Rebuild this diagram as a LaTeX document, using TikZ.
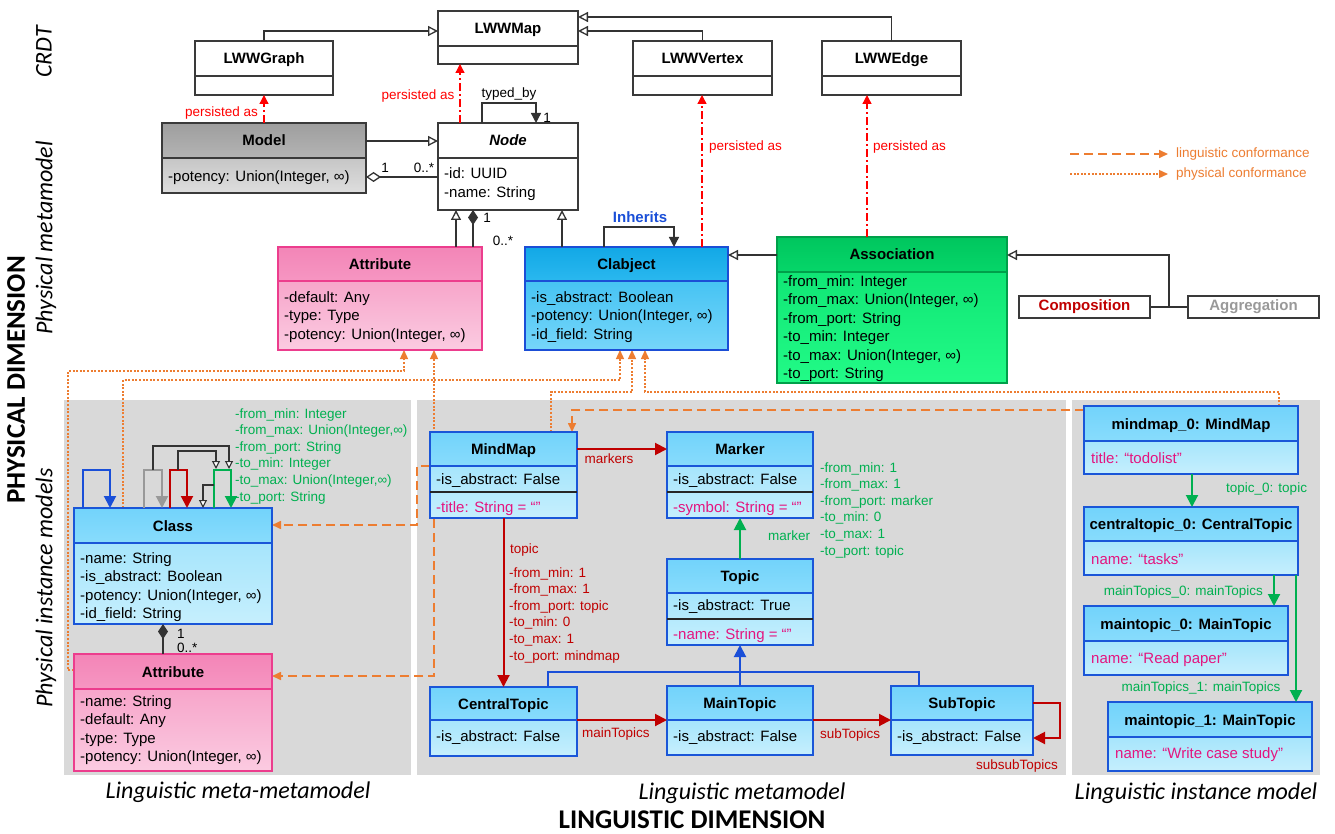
\documentclass[tikz,border=0pt]{standalone}
\usepackage{fontspec}
\setmainfont{Liberation Sans}
\newfontfamily\calfont{Carlito}
\usetikzlibrary{arrows.meta}
\pgfdeclarelayer{panel}
\pgfdeclarelayer{under}
\pgfsetlayers{panel,under,main}

\definecolor{wH1}{HTML}{FFFFFF}\definecolor{wH2}{HTML}{FFFFFF}
\definecolor{wB1}{HTML}{FFFFFF}\definecolor{wB2}{HTML}{FFFFFF}
\definecolor{wD}{HTML}{3A3A3A}
\definecolor{gH1}{HTML}{9E9E9E}\definecolor{gH2}{HTML}{B4B4B4}
\definecolor{gB1}{HTML}{C6C6C6}\definecolor{gB2}{HTML}{DEDEDE}
\definecolor{gD}{HTML}{3A3A3A}
\definecolor{pH1}{HTML}{F385B7}\definecolor{pH2}{HTML}{F696C2}
\definecolor{pB1}{HTML}{F7A5CA}\definecolor{pB2}{HTML}{FBCBE1}
\definecolor{pD}{HTML}{EC3D8D}
\definecolor{cH1}{HTML}{12A8E6}\definecolor{cH2}{HTML}{2AB8EF}
\definecolor{cB1}{HTML}{46C3F3}\definecolor{cB2}{HTML}{76D6FA}
\definecolor{cD}{HTML}{1B4ED6}
\definecolor{aH1}{HTML}{00C65E}\definecolor{aH2}{HTML}{06D669}
\definecolor{aB1}{HTML}{10E675}\definecolor{aB2}{HTML}{22FB87}
\definecolor{aD}{HTML}{00A04A}
\definecolor{iH1}{HTML}{72D3FB}\definecolor{iH2}{HTML}{88DCFC}
\definecolor{iB1}{HTML}{A6E5FC}\definecolor{iB2}{HTML}{C6EFFD}
\definecolor{iD}{HTML}{1A56D8}
\definecolor{panelgray}{HTML}{D9D9D9}
\definecolor{pred}{HTML}{FF0000}
\definecolor{dred}{HTML}{C00000}
\definecolor{ora}{HTML}{ED7D31}
\definecolor{grn}{HTML}{00B050}
\definecolor{blu}{HTML}{1A4FD8}
\definecolor{mag}{HTML}{E4157F}
\definecolor{lgray}{HTML}{999999}

\newcommand\fbody{\fontsize{15}{18.5}\selectfont}
\newcommand\ftitle{\bfseries\fontsize{15}{18.5}\selectfont}
\newcommand\fsmall{\fontsize{13.5}{16.6}\selectfont}
\newcommand\fside{\calfont\itshape\fontsize{24}{28}\selectfont}
\newcommand\fdim{\calfont\bfseries\fontsize{27}{31}\selectfont}

% #1 name, #2 x1, #3 y1, #4 x2, #5 ydiv, #6 y2, #7 colour prefix, #8 title
\newcommand\umlbox[8]{%
  \shade[top color=#7H1,bottom color=#7H2] (#2,#3) rectangle (#4,#5);
  \shade[top color=#7B1,bottom color=#7B2] (#2,#5) rectangle (#4,#6);
  \draw[draw=#7D,line width=1.3pt] (#2,#5) -- (#4,#5);
  \node[draw=#7D,line width=1.3pt,inner sep=0pt,outer sep=0pt,
        minimum width={(#4-#2)*1pt},minimum height={(#6-#3)*1pt},
        anchor=north west] (#1) at (#2,#3) {};
  \node[font=\ftitle,anchor=base,inner sep=0pt] (#1-t) at ({(#2+#4)/2},{(#3+#5)/2+5.5}) {#8};
}

\begin{document}
\begin{tikzpicture}[x=1pt,y=-1pt,
  conn/.style={line width=1.3pt,draw=black!80},
  gen/.style={conn,-{Triangle[fill=white,length=10pt,width=10pt]}},
  smallgen/.style={conn,line width=1.1pt,-{Triangle[fill=white,length=8pt,width=8pt]}},
  fillarr/.style={conn,-{Triangle[length=10pt,width=10pt]}},
  persist/.style={draw=pred,line width=1.3pt,dash pattern=on 8pt off 3pt on 2pt off 3pt,-{Triangle[length=9pt,width=9pt]}},
  ling/.style={draw=ora,line width=1.6pt,dash pattern=on 9pt off 5pt,-{Triangle[length=9pt,width=8pt]}},
  phys/.style={draw=ora,line width=1.3pt,dash pattern=on 2pt off 1.6pt,-{Triangle[length=9pt,width=8pt]}},
  rel/.style={line width=2pt,-{Triangle[length=12pt,width=12pt]}},
  body/.style={anchor=base west,align=left,inner sep=0pt,font=\fbody},
  small/.style={anchor=base west,align=left,inner sep=0pt,font=\fsmall},
  lbl/.style={inner sep=0pt,font=\fsmall},
  sep/.style={draw=black!85,line width=1.3pt},
]
\useasboundingbox (0,0) rectangle (1335,834);

\begin{pgfonlayer}{panel}
\fill[white] (0,0) rectangle (1335,834);
\fill[panelgray] (64,400) rectangle (411,775);
\fill[panelgray] (417,400) rectangle (1066,775);
\fill[panelgray] (1072,400) rectangle (1320,775);
\end{pgfonlayer}

% side and bottom labels
\node[rotate=90,font=\fside] (sCRDT) at (44,52) {CRDT};
\node[rotate=90,font=\fside] (sPM) at (46,238) {Physical metamodel};
\node[rotate=90,font=\fside] (sPI) at (46,588) {Physical instance models};
\node[rotate=90,font=\fdim] (sPD) at (16,380) {PHYSICAL DIMENSION};
\node[font=\fside] (sLMM) at (238,792) {Linguistic meta-metamodel};
\node[font=\fside] (sLM) at (742,793) {Linguistic metamodel};
\node[font=\fside] (sLI) at (1196,793) {Linguistic instance model};
\node[font=\fdim] (sLD) at (692,820) {LINGUISTIC DIMENSION};

% CRDT
\umlbox{lwwmap}{438}{11}{578}{46}{64}{w}{LWWMap}
\umlbox{lwwgraph}{195}{41}{333}{76}{95}{w}{LWWGraph}
\umlbox{lwwvertex}{633}{41}{772}{76}{95}{w}{LWWVertex}
\umlbox{lwwedge}{822}{41}{961}{76}{95}{w}{LWWEdge}

% physical metamodel (multi-line body nodes are placed by their last baseline)
\umlbox{model}{162}{123}{366}{158}{193}{g}{Model}
\node[body] (model-b) at (168,182) {-potency: Union(Integer, ∞)};
\umlbox{node}{438}{123}{578}{158}{210}{w}{\itshape Node}
\node[body] (node-b) at (444,197.5) {-id: UUID\\-name: String};
\umlbox{attrP}{278}{247}{482}{281}{350}{p}{Attribute}
\node[body] (attrP-b) at (284,339) {-default: Any\\-type: Type\\-potency: Union(Integer, ∞)};
\umlbox{clabject}{525}{247}{728}{281}{350}{c}{Clabject}
\node[body] (clabject-b) at (531,339) {-is\_abstract: Boolean\\-potency: Union(Integer, ∞)\\-id\_field: String};
\umlbox{assoc}{777}{237}{1007}{272}{383}{a}{Association}
\node[body] (assoc-b) at (783,378.5) {-from\_min: Integer\\-from\_max: Union(Integer, ∞)\\-from\_port: String\\-to\_min: Integer\\-to\_max: Union(Integer, ∞)\\-to\_port: String};
\node[draw=wD,line width=1.3pt,fill=white,minimum width=131pt,minimum height=22pt,inner sep=0pt,font=\ftitle,text=dred] (composition) at (1084.5,307) {Composition};
\node[draw=wD,line width=1.3pt,fill=white,minimum width=131pt,minimum height=22pt,inner sep=0pt,font=\ftitle,text=lgray] (aggregation) at (1253.5,307) {Aggregation};

% legend
\coordinate (lgA1) at (1070,154); \coordinate (lgA2) at (1168,154);
\draw[ling] (lgA1) -- (lgA2);
\node[lbl,text=ora,anchor=west] (lgT1) at (1176,154) {linguistic conformance};
\coordinate (lgB1) at (1070,174); \coordinate (lgB2) at (1168,174);
\draw[phys] (lgB1) -- (lgB2);
\node[lbl,text=ora,anchor=west] (lgT2) at (1176,174) {physical conformance};

% left panel
\umlbox{klass}{74}{508}{272}{543}{624}{i}{Class}
\node[body] (klass-b) at (80,618.5) {-name: String\\-is\_abstract: Boolean\\-potency: Union(Integer, ∞)\\-id\_field: String};
\umlbox{attrL}{74}{654}{272}{689}{771}{p}{Attribute}
\node[body] (attrL-b) at (80,761.5) {-name: String\\-default: Any\\-type: Type\\-potency: Union(Integer, ∞)};

% middle panel
\umlbox{mindmap}{430}{432}{577}{466}{518}{i}{MindMap}
\draw[sep] (mindmap.west |- 0,492) -- (mindmap.east |- 0,492);
\node[body] (mindmap-b1) at (436,484) {-is\_abstract: False};
\node[body,text=mag] (mindmap-b2) at (436,512) {-title: String = “”};
\umlbox{marker}{667}{432}{813}{466}{518}{i}{Marker}
\draw[sep] (marker.west |- 0,492) -- (marker.east |- 0,492);
\node[body] (marker-b1) at (673,484) {-is\_abstract: False};
\node[body,text=mag] (marker-b2) at (673,512) {-symbol: String = “”};
\umlbox{topic}{667}{559}{813}{593}{645}{i}{Topic}
\draw[sep] (topic.west |- 0,619) -- (topic.east |- 0,619);
\node[body] (topic-b1) at (673,610) {-is\_abstract: True};
\node[body,text=mag] (topic-b2) at (673,639) {-name: String = “”};
\umlbox{central}{430}{687}{577}{720}{756}{i}{CentralTopic}
\node[body] (central-b) at (436,741) {-is\_abstract: False};
\umlbox{maintopic}{667}{686}{813}{720}{755}{i}{MainTopic}
\node[body] (maintopic-b) at (673,741) {-is\_abstract: False};
\umlbox{subtopic}{891}{686}{1033}{720}{755}{i}{SubTopic}
\node[body] (subtopic-b) at (897,741) {-is\_abstract: False};

% right panel
\umlbox{mm0}{1084}{406}{1298}{441}{474}{i}{mindmap\_0: MindMap}
\node[body,text=mag] (mm0-b) at (1091,463) {title: “todolist”};
\umlbox{ct0}{1084}{507}{1298}{541}{575}{i}{centraltopic\_0: CentralTopic}
\node[body,text=mag] (ct0-b) at (1091,564) {name: “tasks”};
\umlbox{mt0}{1084}{606}{1288}{641}{675}{i}{maintopic\_0: MainTopic}
\node[body,text=mag] (mt0-b) at (1091,663) {name: “Read paper”};
\umlbox{mt1}{1108}{702}{1312}{737}{771}{i}{maintopic\_1: MainTopic}
\node[body,text=mag] (mt1-b) at (1115,758) {name: “Write case study”};

% ---- connectors: CRDT
\draw[gen] (lwwgraph.north) |- (lwwmap.west |- 0,31);
\draw[gen] (lwwvertex.north) |- (lwwmap.east |- 0,31);
\draw[gen] (lwwedge.north) |- (lwwmap.east |- 0,17);

% model / node
\draw[gen] (model.east |- 0,141) -- (node.west |- 0,141);
\draw[conn,{Diamond[fill=white,length=15pt,width=10pt]}-] (model.east |- 0,177) -- (node.west |- 0,177);
\node[lbl] (m1) at (385,168) {1};
\node[lbl] (m2) at (424,168) {0..*};

\draw[persist] (model.north) -- (lwwgraph.south);
\node[lbl,text=pred,anchor=east] (p1) at (258,113) {persisted as};
\draw[persist] (node.north -| 460,0) -- (lwwmap.south -| 460,0);
\node[lbl,text=pred] (p2) at (418,96) {persisted as};
\draw[persist] (clabject.north -| 702,0) -- (lwwvertex.south -| 702,0);
\node[lbl,text=pred,anchor=west] (p3) at (709,147) {persisted as};
\draw[persist] (assoc.north -| 867,0) -- (lwwedge.south -| 867,0);
\node[lbl,text=pred,anchor=west] (p4) at (873,147) {persisted as};

\draw[fillarr] (node.north -| 482,0) -- ++(0,-20) -| (node.north -| 536,0);
\node[lbl] (tb) at (509,94) {typed\_by};
\node[lbl] (tb1) at (547,118) {1};

\draw[gen] (attrP.north -| 456,0) -- (node.south -| 456,0);
\draw[conn,{Diamond[length=15pt,width=10pt]}-] (node.south -| 473,0) -- (attrP.north -| 473,0);
\node[lbl] (c1) at (487,218) {1};
\node[lbl] (c2) at (503,241) {0..*};
\draw[gen] (clabject.north -| 562,0) -- (node.south -| 562,0);
\draw[fillarr] (clabject.north -| 604,0) -- ++(0,-20) -| (clabject.north -| 674,0);
\node[inner sep=0pt,font=\ftitle,text=blu] (inh) at (640,217) {Inherits};

\draw[gen] (assoc.west |- 0,255) -- (clabject.east |- 0,255);
\draw[conn] (composition.east) -- (aggregation.west);
\draw[gen] (composition.east -| 1169,0) |- (assoc.east |- 0,255);

% ---- left panel loops
\draw[rel,draw=blu] (klass.north -| 83,0) -- ++(0,-38) -| (klass.north -| 110,0);
\draw[rel,draw=lgray] (klass.north -| 144,0) -- ++(0,-38) -| (klass.north -| 162,0);
\draw[rel,draw=dred] (klass.north -| 170,0) -- ++(0,-38) -| (klass.north -| 187,0);
\draw[rel,draw=grn] (klass.north -| 214,0) -- ++(0,-38) -| (klass.north -| 231,0);
\coordinate (grayTop) at (153,470); \coordinate (greenTopA) at (229,469);
\draw[smallgen] (grayTop) -- (153,446) -| (greenTopA);
\coordinate (redTop) at (178,470); \coordinate (greenTopB) at (216,469);
\draw[smallgen] (redTop) -- (178,451) -| (greenTopB);
\coordinate (greenSide) at (214,485);
\draw[smallgen] (greenSide) -| (klass.north -| 203,0);
\node[small,text=grn] (gtxt) at (235,501) {-from\_min: Integer\\-from\_max: Union(Integer,∞)\\-from\_port: String\\-to\_min: Integer\\-to\_max: Union(Integer,∞)\\-to\_port: String};

\draw[conn,{Diamond[length=15pt,width=10pt]}-] (klass.south -| 163,0) -- (attrL.north -| 163,0);
\node[lbl,anchor=west] (k1) at (177,634) {1};
\node[lbl,anchor=west] (k2) at (177,648) {0..*};

% ---- middle panel
\draw[rel,draw=dred] (mindmap.east |- 0,449) -- (marker.west |- 0,449);
\node[lbl,text=dred] (lmk) at (609,459) {markers};
\draw[rel,draw=grn] (topic.north) -- (marker.south);
\node[lbl,text=grn] (lmr) at (789,536) {marker};
\node[small,text=grn] (gtxt2) at (820,555) {-from\_min: 1\\-from\_max: 1\\-from\_port: marker\\-to\_min: 0\\-to\_max: 1\\-to\_port: topic};
\draw[rel,draw=dred] (mindmap.south) -- (central.north);
\node[lbl,text=dred,anchor=west] (ltp) at (510,550) {topic};
\node[small,text=dred] (rtxt) at (509,660) {-from\_min: 1\\-from\_max: 1\\-from\_port: topic\\-to\_min: 0\\-to\_max: 1\\-to\_port: mindmap};
\draw[rel,draw=blu] (maintopic.north) -- (topic.south);
\draw[line width=2pt,draw=blu] (central.north -| 548,0) -- ++(0,-15) -| (subtopic.north -| 919,0);
\draw[rel,draw=dred] (central.east |- 0,720) -- (maintopic.west |- 0,720);
\node[lbl,text=dred,anchor=west] (lmt) at (582,734) {mainTopics};
\draw[rel,draw=dred] (maintopic.east |- 0,720) -- (subtopic.west |- 0,720);
\node[lbl,text=dred,anchor=west] (lst) at (820,735) {subTopics};
\draw[rel,draw=dred] (subtopic.east |- 0,703) -| (1060,738) -- (subtopic.east |- 0,738);
\node[lbl,text=dred,anchor=east] (lsst) at (1058,766) {subsubTopics};

% ---- right panel
\draw[rel,draw=grn] (mm0.south -| 1192,0) -- (ct0.north -| 1192,0);
\node[lbl,text=grn,anchor=west] (r1) at (1226,489) {topic\_0: topic};
\draw[rel,draw=grn] (ct0.south -| 1274,0) -- (mt0.north -| 1274,0);
\node[lbl,text=grn,anchor=east] (r2) at (1263,592) {mainTopics\_0: mainTopics};
\draw[rel,draw=grn] (ct0.south -| 1296,0) -- (mt1.north -| 1296,0);
\node[lbl,text=grn] (r3) at (1201,688) {mainTopics\_1: mainTopics};

% ---- conformance lines
\begin{pgfonlayer}{under}
\draw[phys] (attrL.west |- 0,670) -| (68,371) -| (attrP.south -| 404,0);
\draw[phys] (klass.north -| 123,0) -- (123,380) -| (clabject.south -| 620,0);
\draw[phys] (mindmap.north -| 551,0) -- (551,392) -| (clabject.south -| 632,0);
\draw[phys] (mm0.north -| 1279,0) -- (1279,392) -| (clabject.south -| 645,0);
\coordinate (titleRow) at (434,505);
\draw[phys] (titleRow) -- (attrP.south -| 434,0);
\draw[ling] (titleRow) -- (434,676) -- (attrL.east |- 0,676);
\draw[ling] (mindmap.west |- 0,466) -| (417,525) -- (klass.east |- 0,525);
\draw[ling] (mm0.west |- 0,410) -| (mindmap.north -| 572,0);
\end{pgfonlayer}
\end{tikzpicture}
\end{document}
